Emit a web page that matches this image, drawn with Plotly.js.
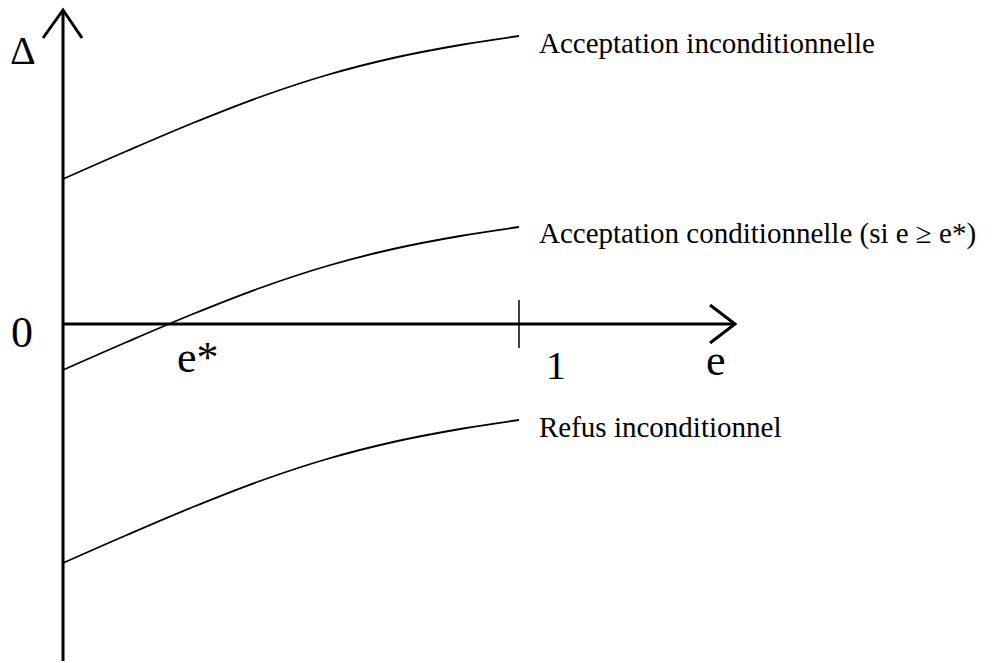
<!DOCTYPE html>
<html>
<head>
<meta charset="utf-8">
<script src="https://cdn.plot.ly/plotly-3.0.1.min.js"></script>
<style>html,body{margin:0;padding:0;background:#fff;}#chart{width:994px;height:663px;}</style>
</head>
<body>
<div id="chart"></div>
<script>
// e values (0 .. 1)
const eValues = [0, 0.14, 0.285, 0.432, 0.579, 0.724, 0.871, 1.0];
// Delta for each scenario
const acceptInconditionnelle = [1.45, 1.73, 2.01, 2.27, 2.49, 2.66, 2.79, 2.88];
const acceptConditionnelle = [-0.46, -0.18, 0.10, 0.36, 0.58, 0.75, 0.88, 0.97];
const refusInconditionnel = [-2.39, -2.11, -1.83, -1.57, -1.35, -1.18, -1.05, -0.96];
const curveLabels = ["Acceptation inconditionnelle", "Acceptation conditionnelle (si e \u2265 e*)", "Refus inconditionnel"];
const axisLabels = {y: "\u0394", origin: "0", x: "e", one: "1", eStar: "e*"};
const eStar = 0.235;

const serif = "Liberation Serif, Times New Roman, serif";
const curveLine = {color: "#000", width: 1.8, shape: "spline", smoothing: 1};
const axisLine = {color: "#000", width: 3};

const traces = [
  {x: eValues, y: acceptInconditionnelle, mode: "lines", line: curveLine, hoverinfo: "skip"},
  {x: eValues, y: acceptConditionnelle, mode: "lines", line: curveLine, hoverinfo: "skip"},
  {x: eValues, y: refusInconditionnel, mode: "lines", line: curveLine, hoverinfo: "skip"},
  // vertical axis with arrowhead
  {x: [0, 0], y: [-3.37, 3.14], mode: "lines", line: axisLine, hoverinfo: "skip"},
  {x: [-0.0439, 0, 0.0417], y: [2.86, 3.14, 2.86], mode: "lines", line: axisLine, hoverinfo: "skip"},
  // horizontal axis with arrowhead
  {x: [0, 1.4737], y: [0, 0], mode: "lines", line: axisLine, hoverinfo: "skip"},
  {x: [1.4189, 1.4737, 1.4189], y: [0.19, 0, -0.19], mode: "lines", line: axisLine, hoverinfo: "skip"},
  // tick at e = 1
  {x: [1, 1], y: [0.24, -0.24], mode: "lines", line: {color: "#000", width: 1.5}, hoverinfo: "skip"}
];

const labelFont = {family: serif, size: 29, color: "#000"};
const bigFont = {family: serif, size: 44, color: "#000"};

const annotations = [
  {x: 1.04, y: 2.81, text: curveLabels[0], xanchor: "left", yanchor: "middle", showarrow: false, font: labelFont},
  {x: 1.04, y: 0.91, text: curveLabels[1], xanchor: "left", yanchor: "middle", showarrow: false, font: labelFont},
  {x: 1.04, y: -1.03, text: curveLabels[2], xanchor: "left", yanchor: "middle", showarrow: false, font: labelFont},
  {x: -0.0877, y: 2.74, text: axisLabels.y, xanchor: "center", yanchor: "middle", showarrow: false, font: {family: serif, size: 40, color: "#000"}},
  {x: -0.0899, y: -0.08, text: axisLabels.origin, xanchor: "center", yanchor: "middle", showarrow: false, font: bigFont},
  {x: 1.081, y: -0.41, text: axisLabels.one, xanchor: "center", yanchor: "middle", showarrow: false, font: {family: serif, size: 40, color: "#000"}},
  {x: 1.432, y: -0.36, text: axisLabels.x, xanchor: "center", yanchor: "middle", showarrow: false, font: bigFont},
  {x: eStar + 0.06, y: -0.33, text: axisLabels.eStar, xanchor: "center", yanchor: "middle", showarrow: false, font: bigFont}
];

const layout = {
  width: 994, height: 663,
  margin: {l: 0, r: 0, t: 0, b: 0, pad: 0},
  paper_bgcolor: "#fff", plot_bgcolor: "#fff",
  showlegend: false,
  xaxis: {range: [-0.1382, 2.0417], visible: false, showgrid: false, zeroline: false, fixedrange: true},
  yaxis: {range: [-3.39, 3.24], visible: false, showgrid: false, zeroline: false, fixedrange: true},
  annotations: annotations
};

Plotly.newPlot("chart", traces, layout, {staticPlot: true, displayModeBar: false});
</script>
</body>
</html>
